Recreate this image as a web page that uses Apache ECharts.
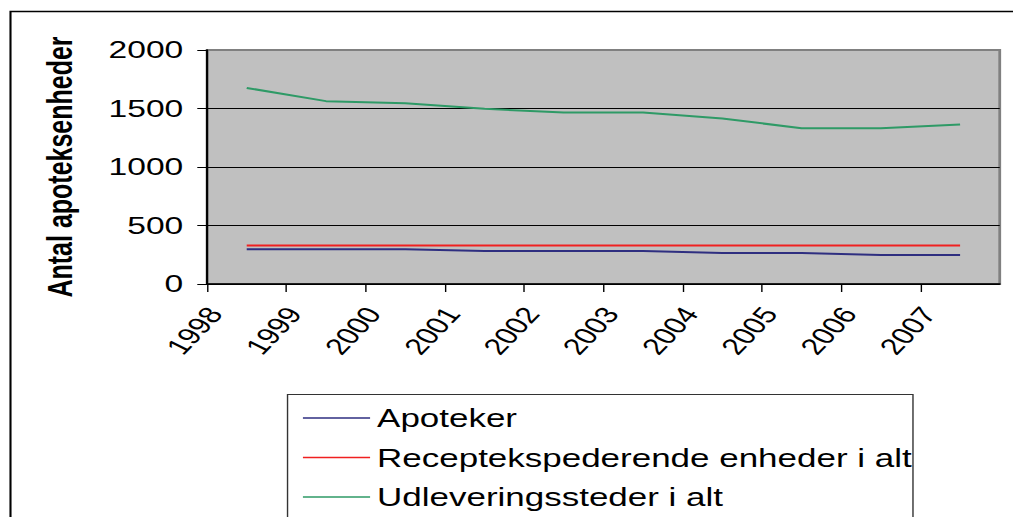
<!DOCTYPE html>
<html>
<head>
<meta charset="utf-8">
<script src="https://cdn.jsdelivr.net/npm/echarts@6/dist/echarts.min.js"></script>
<style>
html, body { margin: 0; padding: 0; overflow: hidden; background: #fff; }
/* the original picture is an Excel chart stretched sideways, so the chart is drawn narrow and scaled */
#main { width: 724px; height: 517px; transform: scaleX(1.3992); transform-origin: 0 0; }
</style>
</head>
<body>
<div id="main"></div>
<script>
var years = ['1998', '1999', '2000', '2001', '2002', '2003', '2004', '2005', '2006', '2007'];
var apoteker = [296, 296, 296, 282, 282, 282, 265, 265, 248, 248];
var receptEnheder = [330, 330, 330, 330, 330, 330, 330, 330, 330, 330];
var udleveringssteder = [1676, 1563, 1545, 1497, 1465, 1465, 1414, 1332, 1332, 1363];
var yTicks = [0, 500, 1000, 1500, 2000];

var font = 'Liberation Sans, Arial, sans-serif';
var chart = echarts.init(document.getElementById('main'), null, {renderer: 'svg'});

var option = {
    backgroundColor: '#fff',
    animation: false,
    graphic: [
        {type: 'rect', left: 5, top: 9, shape: {width: 800, height: 600},
         style: {fill: 'none', stroke: '#000', lineWidth: 1.5}, silent: true},
        {type: 'rect', left: 205, top: 394, shape: {width: 447, height: 200},
         style: {fill: '#fff', stroke: '#333', lineWidth: 1}, silent: true}
    ],
    grid: {
        left: 148, right: 9.5, top: 50, bottom: 233,
        show: true, backgroundColor: '#c0c0c0', borderColor: '#808080', borderWidth: 2
    },
    legend: {
        orient: 'vertical',
        left: 216.5, top: 404, height: 200, padding: 0,
        icon: 'rect',
        itemWidth: 48, itemHeight: 1.5, itemGap: 11.5,
        textStyle: {fontFamily: font, fontSize: 25, color: '#000', lineHeight: 28},
        data: ['Apoteker', 'Receptekspederende enheder i alt', 'Udleveringssteder i alt']
    },
    xAxis: [
        {
            type: 'value',
            min: Number(years[0]), max: Number(years[years.length - 1]) + 1, interval: 1,
            axisLine: {show: true, lineStyle: {color: '#000', width: 1.5}},
            axisTick: {show: true, length: 8, lineStyle: {color: '#000'}},
            splitLine: {show: false},
            axisLabel: {
                rotate: 55, margin: 34, showMaxLabel: false, padding: [0, -10, 0, 0],
                fontFamily: font, fontSize: 23, color: '#000',
                formatter: function (v) { return String(v); }
            }
        },
        {
            type: 'category', data: years, boundaryGap: true, show: false
        }
    ],
    yAxis: {
        type: 'value', min: 0, max: 2000, interval: 500,
        name: 'Antal apoteksenheder', nameLocation: 'middle', nameRotate: 90, nameGap: 93,
        nameTextStyle: {fontFamily: font, fontSize: 25, fontWeight: 'bold', color: '#000'},
        axisLine: {show: true, lineStyle: {color: '#000', width: 1.5}},
        axisTick: {show: true, length: 7, lineStyle: {color: '#000'}},
        axisLabel: {
            margin: 17, fontFamily: font, fontSize: 24, color: '#000',
            formatter: function (v) { return yTicks.indexOf(v) >= 0 ? String(v) : ''; }
        },
        splitLine: {show: true, lineStyle: {color: ['#000', '#000', '#000', '#000', '#808080'], width: 1}}
    },
    series: [
        {name: 'Apoteker', type: 'line', xAxisIndex: 1, data: apoteker, symbol: 'none',
         lineStyle: {color: '#2e2e80', width: 2}, itemStyle: {color: '#2e2e80'}},
        {name: 'Receptekspederende enheder i alt', type: 'line', xAxisIndex: 1, data: receptEnheder, symbol: 'none',
         lineStyle: {color: '#f02020', width: 2}, itemStyle: {color: '#f02020'}},
        {name: 'Udleveringssteder i alt', type: 'line', xAxisIndex: 1, data: udleveringssteder, symbol: 'none',
         lineStyle: {color: '#2e9a66', width: 2}, itemStyle: {color: '#2e9a66'}}
    ]
};
chart.setOption(option);
</script>
</body>
</html>
